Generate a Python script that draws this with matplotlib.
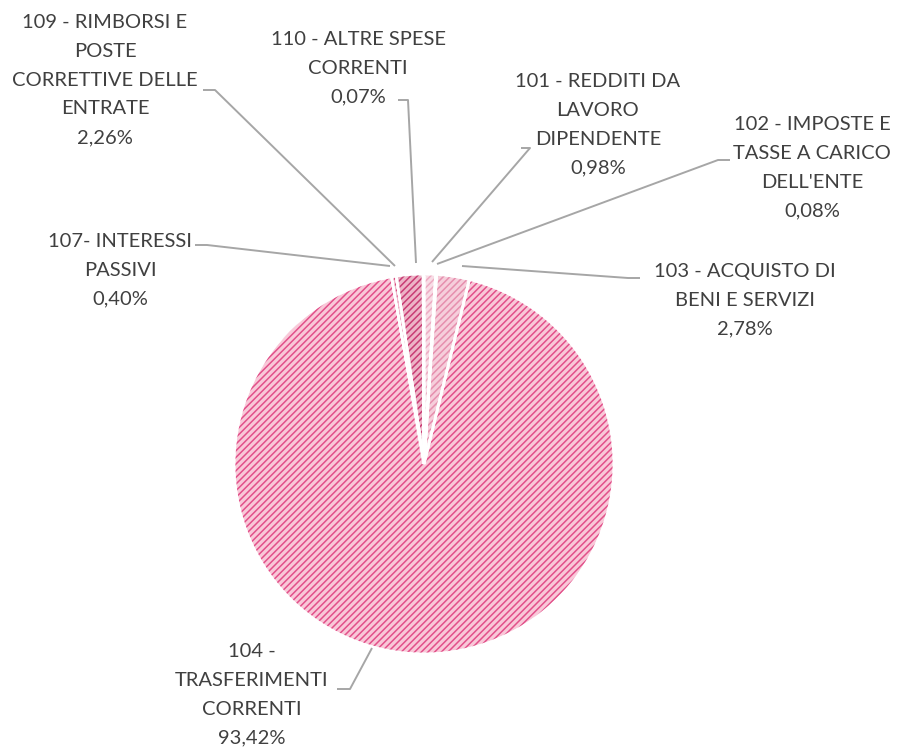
import matplotlib
matplotlib.use("Agg")
import matplotlib.pyplot as plt

categories = ["101 - REDDITI DA\nLAVORO\nDIPENDENTE", "102 - IMPOSTE E\nTASSE A CARICO\nDELL'ENTE",
              "103 - ACQUISTO DI\nBENI E SERVIZI", "104 -\nTRASFERIMENTI\nCORRENTI",
              "107- INTERESSI\nPASSIVI", "109 - RIMBORSI E\nPOSTE\nCORRETTIVE DELLE\nENTRATE",
              "110 - ALTRE SPESE\nCORRENTI"]
values = [0.98, 0.08, 2.78, 93.42, 0.40, 2.26, 0.07]
pct_labels = ["0,98%", "0,08%", "2,78%", "93,42%", "0,40%", "2,26%", "0,07%"]

face_colors = ["#F8DDE6", "#F5CCDA", "#F6CEDB", "#F9C8D8", "#F1B6CA", "#EDB3C6", "#F4CAD8"]
hatch_colors = ["#EDABC2", "#E58AAB", "#E68FAE", "#E2508A", "#D84A80", "#C83C74", "#E07AA0"]
explode = [0.045, 0.045, 0.045, 0.0, 0.045, 0.045, 0.045]

# label centres (pixel coords from top-left) and leader polylines
label_pos = [(598, 125), (812, 168), (745, 300), (252, 695), (120, 270), (105, 80), (358, 68)]
leaders = [
    [(521, 148), (530, 148), (432, 262)],
    [(730, 160), (718, 160), (437, 264)],
    [(640, 278), (628, 278), (462, 266)],
    [(337, 689), (350, 689), (372, 648)],
    [(195, 245), (207, 245), (390, 266)],
    [(203, 90), (215, 90), (395, 266)],
    [(398, 100), (408, 100), (416, 263)],
]

W, H = 897, 751
plt.rcParams['hatch.linewidth'] = 1.1
fig = plt.figure(figsize=(W / 100, H / 100), dpi=100)
ax = fig.add_axes([0, 0, 1, 1])

center = (424, H - 464)
radius = 190

wedges, _ = ax.pie(values, explode=explode, startangle=90, counterclock=False,
                   colors=face_colors, center=center, radius=radius,
                   wedgeprops=dict(edgecolor='white', linewidth=1.8), frame=True)
wedges2, _ = ax.pie(values, explode=explode, startangle=90, counterclock=False,
                    center=center, radius=radius, frame=True,
                    wedgeprops=dict(facecolor='none', linewidth=0))
for w, hc in zip(wedges2, hatch_colors):
    w.set_hatch('/////')
    w.set_edgecolor(hc)
    w.set_linewidth(0)
wedges3, _ = ax.pie(values, explode=explode, startangle=90, counterclock=False,
                    center=center, radius=radius, frame=True,
                    wedgeprops=dict(facecolor='none', edgecolor='white', linewidth=2.0))
ax.set_xlim(0, W)
ax.set_ylim(0, H)
ax.axis('off')

for pts in leaders:
    xs = [p[0] for p in pts]
    ys = [H - p[1] for p in pts]
    ax.plot(xs, ys, color='#A6A6A6', lw=1.4, solid_capstyle='butt', zorder=5)

for cat, pct, (x, y) in zip(categories, pct_labels, label_pos):
    ax.text(x, H - y, cat + "\n" + pct, ha='center', va='center', fontsize=14.5,
            family=['Lato', 'DejaVu Sans'], color='#404040', linespacing=1.85, zorder=6)

fig.savefig("out.png", dpi=100)
